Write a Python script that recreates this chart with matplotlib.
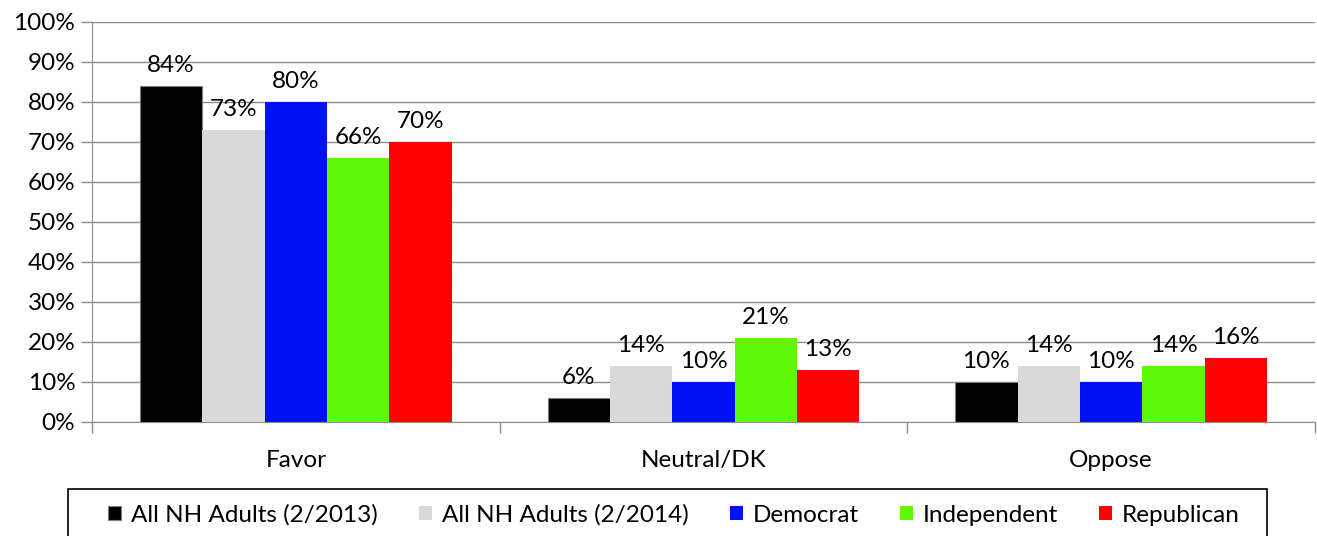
import numpy as np
import matplotlib
matplotlib.use("Agg")
import matplotlib.pyplot as plt
from matplotlib.patches import Rectangle

plt.rcParams['font.family'] = ['Lato', 'DejaVu Sans']

categories = ["Favor", "Neutral/DK", "Oppose"]
series_names = ["All NH Adults (2/2013)", "All NH Adults (2/2014)", "Democrat", "Independent", "Republican"]
adults_2013 = [84, 6, 10]
adults_2014 = [73, 14, 14]
democrat = [80, 10, 10]
independent = [66, 21, 14]
republican = [70, 13, 16]
colors = ["#000000", "#d9d9d9", "#0010f5", "#5ef80a", "#ff0000"]
yticks = [0, 10, 20, 30, 40, 50, 60, 70, 80, 90, 100]

all_series = [adults_2013, adults_2014, democrat, independent, republican]
W, H = 1317, 536
fs = 17.5

fig = plt.figure(figsize=(W/100, H/100), dpi=100)
ax = fig.add_axes([92/W, 1 - 422/H, (1315-92)/W, 400/H])

x = np.arange(len(categories))
bw = 0.153
for i, vals in enumerate(all_series):
    pos = x + (i - 2) * bw
    edge = "#7f7f7f" if i == 0 else colors[i]
    ax.bar(pos, vals, width=bw, color=colors[i], edgecolor=edge,
           linewidth=0.8 if i == 0 else 0, label=series_names[i], zorder=3)
    for p, v in zip(pos, vals):
        ax.annotate(f"{v}%", (p, v), xytext=(0, 7), textcoords="offset points",
                    ha="center", va="bottom", fontsize=fs, zorder=4)

ax.set_xlim(-0.5, 2.5)
ax.set_ylim(0, 100)
ax.set_yticks(yticks)
ax.set_yticklabels([f"{t}%" for t in yticks], fontsize=fs)
ax.yaxis.grid(True, color="#8c8c8c", linewidth=1.0, zorder=0)
ax.set_xticks(x)
ax.set_xticklabels(categories, fontsize=fs)
ax.tick_params(axis="x", length=0, pad=20)
ax.set_xticks([-0.5, 0.5, 1.5, 2.5], minor=True)
ax.tick_params(axis="x", which="minor", length=8, color="#8c8c8c", width=1.0)
ax.tick_params(axis="y", length=8, color="#8c8c8c", width=1.0, pad=4)
for s in ["top", "right"]:
    ax.spines[s].set_visible(False)
ax.spines["left"].set_color("#8c8c8c")
ax.spines["bottom"].set_color("#8c8c8c")

# legend frame drawn separately so the entries can sit inset like Excel's
fig.patches.append(Rectangle((68/W, -0.05), (1267-68)/W, 0.05 + 1 - 489/H,
                             transform=fig.transFigure, fill=False,
                             edgecolor="black", linewidth=1.2))
leg = fig.legend(loc="center left", bbox_to_anchor=(108/W, 1 - 515/H, (1240-108)/W, 0),
                 mode="expand", ncol=5, frameon=False, fontsize=fs,
                 handlelength=0.55, handleheight=0.55, handletextpad=0.4,
                 borderpad=0, borderaxespad=0)

fig.savefig("out.png", dpi=100)
